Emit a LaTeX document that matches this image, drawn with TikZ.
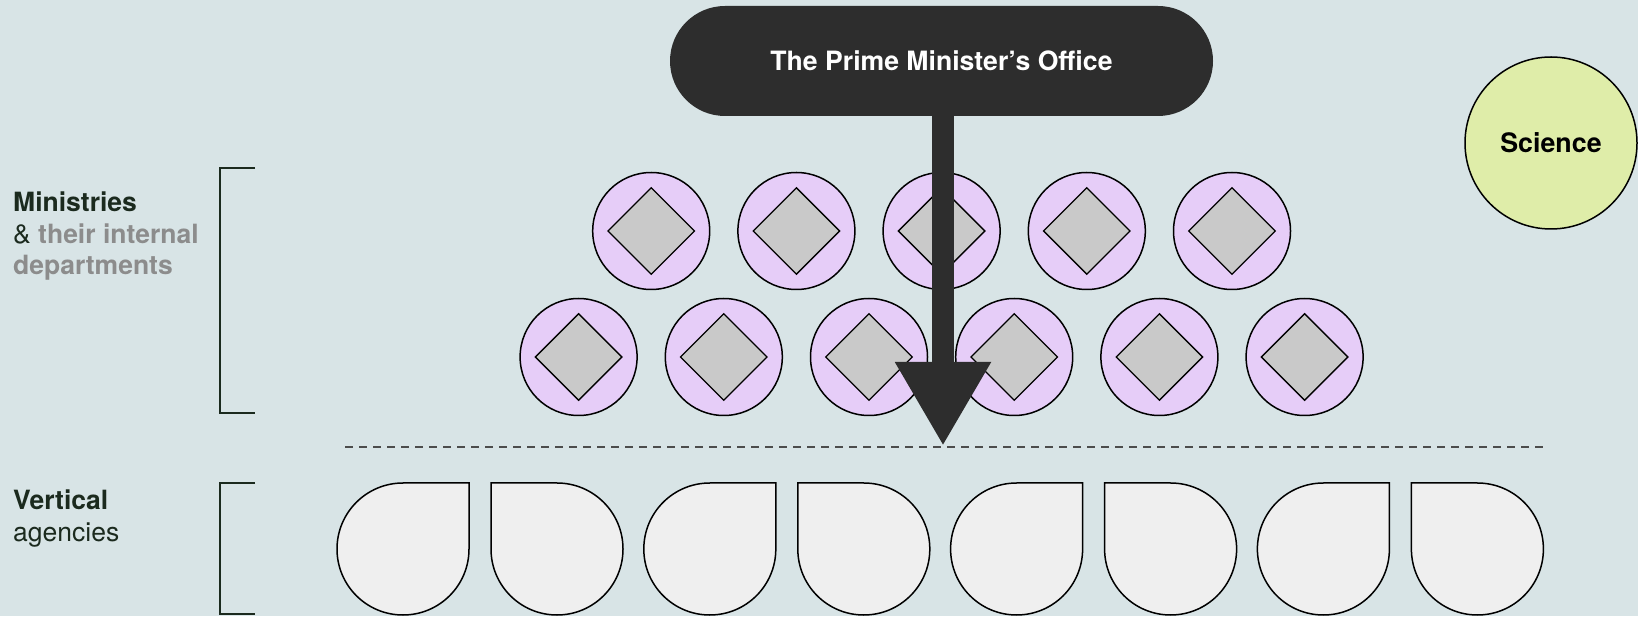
\documentclass[tikz,border=0pt]{standalone}
\usepackage{fontspec}
\setmainfont{TeX Gyre Heros}
\usepackage{xcolor}
\usetikzlibrary{shapes.geometric, arrows.meta}
\definecolor{bg}{HTML}{D8E4E6}
\definecolor{ink}{HTML}{1B2A1E}
\definecolor{labgray}{HTML}{8C8C8C}
\definecolor{pmdark}{HTML}{2D2D2D}
\definecolor{minfill}{HTML}{E6CDF8}
\definecolor{depfill}{HTML}{C9C9C9}
\definecolor{agefill}{HTML}{EFEFEF}
\definecolor{scifill}{HTML}{DFEDA9}
\begin{document}
\begin{tikzpicture}[x=1pt, y=1pt,
    lab/.style={inner sep=0pt, anchor=base west, align=left, text=ink,
        font=\fontsize{26.5}{31.5}\selectfont},
    pmbox/.style={fill=pmdark, text=white, minimum width=543pt, minimum height=110pt,
        rounded corners=55pt, font=\fontsize{26.6}{31.5}\selectfont\bfseries},
    ministry/.style={circle, draw=black, line width=1.5pt, fill=minfill,
        minimum size=117pt, inner sep=0pt},
    dept/.style={diamond, draw=black, line width=1.3pt, fill=depfill,
        minimum width=87pt, minimum height=87pt, inner sep=0pt},
    agency/.style={draw=black, line width=1.5pt, fill=agefill},
    bracket/.style={draw=ink, line width=1.8pt}]
\useasboundingbox[fill=bg] (0,0) rectangle (1638,616);
\node[lab] (minlab) at (13,341) {\textbf{Ministries}\\
    \&~\textcolor{labgray}{\textbf{their internal}}\\
    \textcolor{labgray}{\textbf{departments}}};
\node[lab] (agelab) at (13,75) {\textbf{Vertical}\\agencies};
\draw[bracket] (255,448) -- (220,448) -- (220,203) -- (255,203);
\draw[bracket] (255,133) -- (220,133) -- (220,2) -- (255,2);
\node[circle, draw=black, line width=1.5pt, fill=scifill, minimum size=172pt,
    inner sep=0pt, font=\fontsize{26.8}{31.5}\selectfont\bfseries] (sci) at (1551,473) {Science};
\foreach \i in {0,...,4}{
    \node[ministry] (mA\i) at ({651.2+145.2*\i},385) {};
    \node[dept] (dA\i) at (mA\i) {};
}
\foreach \i in {0,...,5}{
    \node[ministry] (mB\i) at ({578.6+145.2*\i},259) {};
    \node[dept] (dB\i) at (mB\i) {};
}
\draw[dashed, dash pattern=on 8pt off 6pt, line width=1.3pt, color=pmdark!85] (345,169) -- (1543,169);
\foreach \i in {0,...,3}{
    \draw[agency] ({469+306.8*\i},133) -- ({403+306.8*\i},133)
        arc[start angle=90, end angle=360, radius=66] -- cycle;
    \draw[agency] ({491+306.8*\i},133) -- ({491+306.8*\i},67)
        arc[start angle=180, end angle=450, radius=66] -- cycle;
}
\node[pmbox] (pm) at (941.5,555) {The Prime Minister’s Office};
\coordinate (T) at (943,170);
\draw[line width=22pt, color=pmdark, -{Triangle[length=84pt, width=90pt]}] (pm.south -| T) -- (T);
\end{tikzpicture}
\end{document}
